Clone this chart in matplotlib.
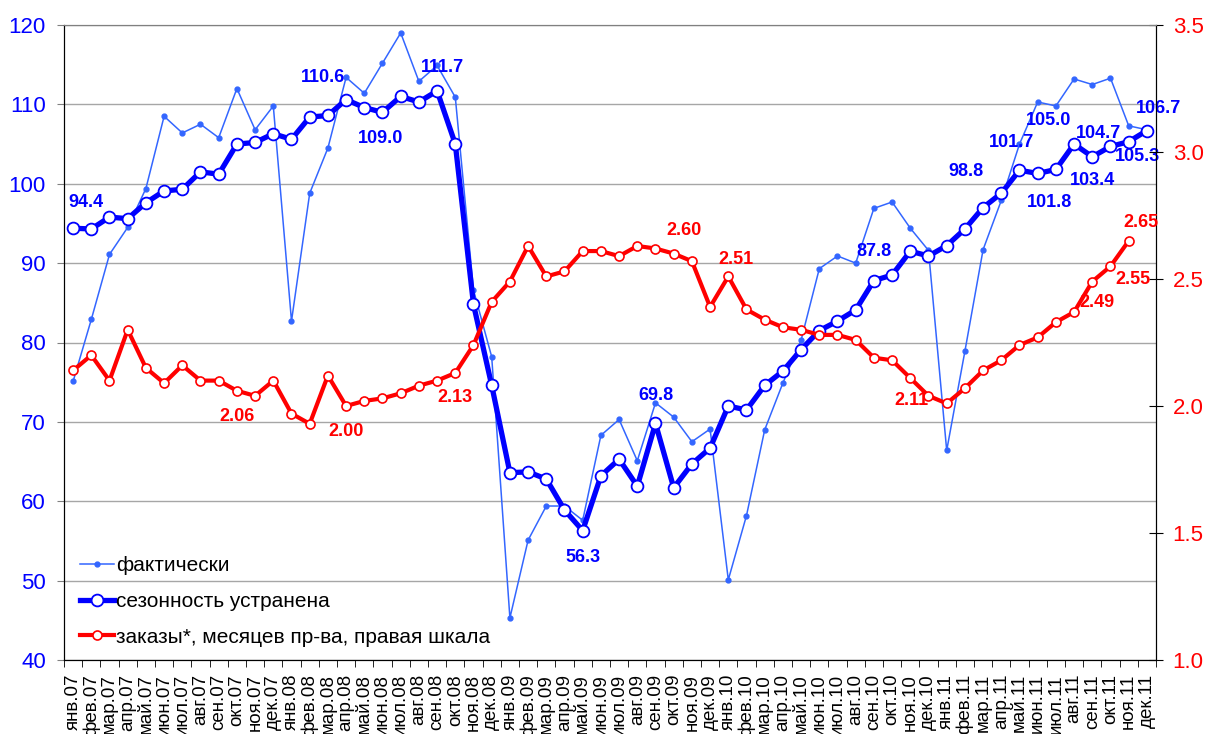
import numpy as np
import matplotlib
matplotlib.use("Agg")
import matplotlib.pyplot as plt
from matplotlib.lines import Line2D

plt.rcParams['font.family'] = ['Liberation Sans', 'DejaVu Sans']

# months Jan 2007 - Dec 2011
month_names = ['янв', 'фев', 'мар', 'апр', 'май', 'июн',
               'июл', 'авг', 'сен', 'окт', 'ноя', 'дек']
years = ['07', '08', '09', '10', '11']
months = [f"{m}.{y}" for y in years for m in month_names]

# actual values
actual = [75.1, 82.9, 91.1, 94.5, 99.4, 108.5, 106.4, 107.5, 105.8, 112.0, 106.8, 109.8,
          82.7, 98.8, 104.5, 113.4, 111.4, 115.2, 119.0, 112.9, 114.9, 110.9, 86.6, 78.2,
          45.3, 55.1, 59.4, 59.4, 57.6, 68.3, 70.3, 65.1, 72.4, 70.6, 67.5, 69.1,
          50.1, 58.2, 69.0, 74.9, 80.3, 89.3, 90.9, 90.0, 96.9, 97.7, 94.4, 91.6,
          66.4, 78.9, 91.7, 97.9, 105.0, 110.3, 109.8, 113.2, 112.5, 113.3, 107.3, 106.8]

# seasonally adjusted
seas_adj = [94.4, 94.3, 95.8, 95.6, 97.6, 99.1, 99.3, 101.5, 101.2, 105.0, 105.2, 106.3,
            105.6, 108.4, 108.6, 110.6, 109.6, 109.0, 111.0, 110.3, 111.7, 105.0, 84.8, 74.6,
            63.6, 63.7, 62.8, 58.9, 56.3, 63.2, 65.3, 61.9, 69.8, 61.7, 64.7, 66.7,
            72.0, 71.5, 74.6, 76.4, 79.1, 81.5, 82.7, 84.1, 87.8, 88.5, 91.5, 90.9,
            92.2, 94.3, 97.0, 98.8, 101.7, 101.3, 101.8, 105.0, 103.4, 104.7, 105.3, 106.7]

# orders, months of production (right scale)
orders = [2.14, 2.20, 2.10, 2.30, 2.15, 2.09, 2.16, 2.10, 2.10, 2.06, 2.04, 2.10,
          1.97, 1.93, 2.12, 2.00, 2.02, 2.03, 2.05, 2.08, 2.10, 2.13, 2.24, 2.41,
          2.49, 2.63, 2.51, 2.53, 2.61, 2.61, 2.59, 2.63, 2.62, 2.60, 2.57, 2.39,
          2.51, 2.38, 2.34, 2.31, 2.30, 2.28, 2.28, 2.26, 2.19, 2.18, 2.11, 2.04,
          2.01, 2.07, 2.14, 2.18, 2.24, 2.27, 2.33, 2.37, 2.49, 2.55, 2.65, np.nan]

# data labels: (index, text)
blue_labels = [(0, '94.4'), (15, '110.6'), (17, '109.0'), (20, '111.7'), (28, '56.3'),
               (32, '69.8'), (44, '87.8'), (51, '98.8'), (52, '101.7'), (55, '105.0'),
               (54, '101.8'), (56, '103.4'), (57, '104.7'), (58, '105.3'), (59, '106.7')]
red_labels = [(9, '2.06'), (15, '2.00'), (21, '2.13'), (33, '2.60'), (36, '2.51'),
              (46, '2.11'), (56, '2.49'), (57, '2.55'), (58, '2.65')]

# label offsets in pixels
blue_offsets = [(13, 26), (-23, 22), (-2, -26), (5, 23), (0, -27),
                (0, 28), (0, 29), (-35, 22), (-8, 28), (-26, 24),
                (-6, -33), (0, -24), (-12, 13), (9, -15), (12, 22)]
red_offsets = [(0, -26), (0, -25), (0, -25), (10, 23), (8, 17),
               (1, -22), (5, -21), (22, -13), (12, 18)]

BLUE = '#0000FF'
LIGHT = '#3366FF'
RED = '#FF0000'

x = np.arange(len(months))

fig = plt.figure(figsize=(12.1, 7.34), dpi=100)
ax = fig.add_axes([64 / 1210, 1 - 660 / 734, (1156 - 64) / 1210, (660 - 25) / 734])
ax2 = ax.twinx()

ax.plot(x, actual, color=LIGHT, lw=1.1, marker='o', ms=3.5, mfc=LIGHT, mec=LIGHT, zorder=3)
ax.plot(x, seas_adj, color=BLUE, lw=3.8, marker='o', ms=8.5, mfc='white', mec=BLUE,
        mew=1.3, zorder=4)
ax2.plot(x, orders, color=RED, lw=3.0, marker='o', ms=6.5, mfc='white', mec=RED,
         mew=1.2, zorder=4)

for (i, t), (dx, dy) in zip(blue_labels, blue_offsets):
    ax.annotate(t, (x[i], seas_adj[i]), xytext=(dx, dy), textcoords='offset pixels',
                ha='center', va='center', color=BLUE, fontsize=13, fontweight='bold',
                zorder=6)
for (i, t), (dx, dy) in zip(red_labels, red_offsets):
    ax2.annotate(t, (x[i], orders[i]), xytext=(dx, dy), textcoords='offset pixels',
                 ha='center', va='center', color=RED, fontsize=13, fontweight='bold',
                 zorder=6)

ax.set_xlim(-0.5, len(months) - 0.5)
ax.set_ylim(40, 120)
ax2.set_ylim(1.0, 3.5)

ax.set_yticks(np.arange(40, 121, 10))
ax2.set_yticks(np.arange(1.0, 3.51, 0.5))
ax2.set_yticklabels([f"{v:.1f}" for v in np.arange(1.0, 3.51, 0.5)])
ax.tick_params(axis='y', colors='#808080', labelcolor=BLUE, labelsize=16, length=5, pad=8)
ax2.tick_params(axis='y', colors='black', labelcolor=RED, labelsize=16, length=10,
                direction='inout', pad=7)

ax.set_xticks(x)
ax.set_xticklabels(months, rotation=90, fontsize=13.5)
ax.set_xticks(np.arange(-0.5, len(months), 1), minor=True)
ax.tick_params(axis='x', which='major', length=0, pad=10)
ax.tick_params(axis='x', which='minor', length=5, color='black')

ax.grid(axis='y', color='#a6a6a6', lw=1.0)
ax.set_axisbelow(True)
for s in ['left', 'bottom', 'right']:
    ax.spines[s].set_color('black')
    ax2.spines[s].set_color('black')
ax.spines['top'].set_color('#808080')
ax2.spines['top'].set_color('#808080')

handles = [
    Line2D([], [], color=LIGHT, lw=1.1, marker='o', ms=3.5, mfc=LIGHT, mec=LIGHT),
    Line2D([], [], color=BLUE, lw=3.8, marker='o', ms=8.5, mfc='white', mec=BLUE, mew=1.3),
    Line2D([], [], color=RED, lw=3.0, marker='o', ms=6.5, mfc='white', mec=RED, mew=1.2),
]
labels = ['фактически', 'сезонность устранена', 'заказы*, месяцев пр-ва, правая шкала']
leg = ax2.legend(handles, labels, loc='upper left',
                 bbox_to_anchor=(70 / 1210, 1 - 546 / 734), bbox_transform=fig.transFigure,
                 frameon=False, fontsize=15, handlelength=1.6, handletextpad=0.1,
                 labelspacing=0.8, borderpad=0, numpoints=1)

fig.savefig('out.png', dpi=100)
